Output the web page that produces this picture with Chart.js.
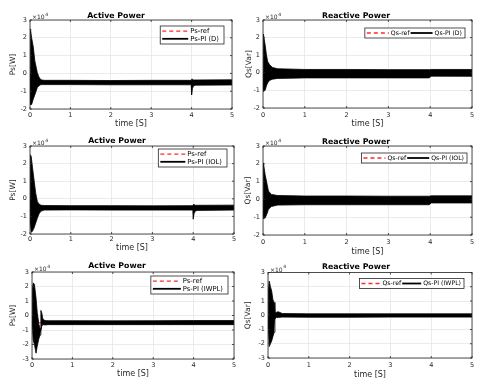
<!DOCTYPE html>
<html lang="en">
<head>
<meta charset="UTF-8">
<title>Active / Reactive Power</title>
<script src="https://cdn.jsdelivr.net/npm/chart.js@4"></script>
<style>
  body { margin: 0; background: #fff; }
  #wrap { position: relative; width: 480px; height: 387px; overflow: hidden; background: #fff; }
  #wrap canvas { position: absolute; }
</style>
</head>
<body>
<div id="wrap">
  <canvas id="c1" width="240" height="130" style="left:0;top:0"></canvas>
  <canvas id="c2" width="240" height="130" style="left:240px;top:0"></canvas>
  <canvas id="c3" width="240" height="127" style="left:0;top:130px"></canvas>
  <canvas id="c4" width="240" height="127" style="left:240px;top:130px"></canvas>
  <canvas id="c5" width="240" height="130" style="left:0;top:257px"></canvas>
  <canvas id="c6" width="240" height="130" style="left:240px;top:257px"></canvas>
</div>
<script>
// tick labels (y ticks are in units of 10^4)
const xTicks = [0, 1, 2, 3, 4, 5];
const yTicksTop = [-2, -1, 0, 1, 2, 3];
const yTicksBottom = [-3, -2, -1, 0, 1, 2, 3];

// references
const refTime = [0, 5];
const psRef = [-5000, -5000];
const qsRef = [0, 0];

// PI (D) - envelope of the oscillating signal (upper / lower), W and Var
const tPsD  = [0, 0.01, 0.02, 0.04, 0.08, 0.12, 0.18, 0.22, 0.27, 0.35, 1, 2, 3, 3.99, 4.0, 4.02, 4.05, 4.1, 5];
const psUpD = [0, 25000, 24000, 20000, 15000, 7000, 500, -2000, -3600, -3900, -3900, -4000, -3900, -3900, -3300, -3300, -3700, -3700, -3600];
const psLoD = [0, -12000, -17500, -17500, -14500, -12000, -8000, -7000, -6300, -6300, -6300, -6400, -6400, -6400, -12000, -8500, -7000, -6600, -6500];

const tQsD  = [0, 0.01, 0.05, 0.08, 0.11, 0.16, 0.23, 0.35, 1, 2, 3, 3.98, 4.02, 5];
const qsUpD = [0, 22000, 16000, 10500, 6500, 4500, 3000, 2300, 1900, 1900, 1800, 1800, 1900, 1900];
const qsLoD = [0, -10500, -10000, -7500, -5800, -4300, -3600, -3200, -2900, -2900, -2900, -2900, -1900, -2000];

// PI (IOL)
const tPsIOL  = [0, 0.01, 0.03, 0.06, 0.1, 0.14, 0.18, 0.22, 0.27, 0.35, 1, 2, 3, 3.99, 4.0, 4.02, 4.05, 4.1, 5];
const psUpIOL = [0, 25000, 24000, 18000, 10500, 3200, -1500, -3000, -3700, -3800, -3900, -3900, -4000, -3900, -3300, -3300, -3700, -3700, -3600];
const psLoIOL = [0, -14000, -19000, -18500, -16500, -13700, -11000, -8600, -7000, -6400, -6300, -6400, -6400, -6400, -11600, -8500, -7000, -6600, -6400];

const tQsIOL  = [0, 0.01, 0.05, 0.1, 0.13, 0.2, 0.35, 1, 2, 3, 3.98, 4.02, 5];
const qsUpIOL = [0, 20500, 14000, 8300, 4700, 2800, 2200, 1900, 1900, 1800, 1800, 2000, 2000];
const qsLoIOL = [0, -10700, -10500, -7800, -5600, -4000, -3200, -3000, -3000, -3000, -3000, -2000, -2000];

// PI (IWPL)
const tPsIWPL  = [0, 0.01, 0.03, 0.06, 0.1, 0.13, 0.17, 0.2, 0.22, 0.24, 0.27, 0.32, 0.4, 1, 2, 3, 4, 5];
const psUpIWPL = [0, 18000, 22500, 21500, 12000, 2000, -6000, -9000, 3500, 2000, -2500, -3500, -3600, -3600, -3700, -3600, -3500, -3500];
const psLoIWPL = [0, -8000, -17000, -20000, -26000, -21000, -16000, -13500, -11000, -7500, -6200, -6500, -6300, -6300, -6300, -6300, -6300, -6300];

const tQsIWPL  = [0, 0.01, 0.03, 0.06, 0.09, 0.12, 0.15, 0.17, 0.2, 0.25, 0.35, 1, 2, 3, 4, 5];
const qsUpIWPL = [0, 18000, 24000, 20000, 17000, 11000, 9000, 2500, 2000, 2500, 1200, 1000, 1000, 1000, 1000, 1000];
const qsLoIWPL = [0, -10000, -22000, -20000, -18000, -15000, -12000, -3000, -1500, -1500, -1300, -1400, -1400, -1300, -1300, -1300];

const FONT = '"DejaVu Sans", sans-serif';
const AXIS = '#262626';
const GRID = '#e2e2e2';

// box round the plot area plus small inward ticks (matlab style)
const frame = {
  id: 'frame',
  afterDatasetsDraw(chart) {
    const ctx = chart.ctx, a = chart.chartArea;
    ctx.save();
    ctx.strokeStyle = AXIS;
    ctx.lineWidth = 0.8;
    ctx.strokeRect(a.left, a.top, a.right - a.left, a.bottom - a.top);
    ctx.beginPath();
    chart.scales.x.ticks.forEach(t => {
      const px = chart.scales.x.getPixelForValue(t.value);
      ctx.moveTo(px, a.bottom); ctx.lineTo(px, a.bottom - 2);
      ctx.moveTo(px, a.top); ctx.lineTo(px, a.top + 2);
    });
    chart.scales.y.ticks.forEach(t => {
      const py = chart.scales.y.getPixelForValue(t.value);
      ctx.moveTo(a.left, py); ctx.lineTo(a.left + 2, py);
      ctx.moveTo(a.right, py); ctx.lineTo(a.right - 2, py);
    });
    ctx.stroke();
    ctx.restore();
  }
};

const legendBox = {
  id: 'legendBox',
  afterDatasetsDraw(chart, args, o) {
    const ctx = chart.ctx, a = chart.chartArea;
    const items = chart.data.datasets.slice(0, 2);
    ctx.save();
    ctx.font = o.size + 'px ' + FONT;
    ctx.textBaseline = 'middle';
    const tw = items.map(d => ctx.measureText(d.label).width);
    let w, h;
    if (o.row) {
      w = 2 + o.line + 2 + tw[0] + 1 + o.line + 2 + tw[1] + 3;
      h = 10;
    } else {
      w = 2 + o.line + 3 + Math.max(tw[0], tw[1]) + 4;
      h = 18;
    }
    const x = a.right - o.right - w, y = a.top + o.top;
    ctx.fillStyle = '#fff';
    ctx.fillRect(x, y, w, h);
    ctx.strokeStyle = AXIS;
    ctx.lineWidth = 0.8;
    ctx.strokeRect(x, y, w, h);
    const item = (d, lx, ly) => {
      ctx.beginPath();
      ctx.setLineDash(d.borderDash || []);
      ctx.strokeStyle = d.borderColor;
      ctx.lineWidth = d.legendWidth;
      ctx.moveTo(lx, ly);
      ctx.lineTo(lx + o.line, ly);
      ctx.stroke();
      ctx.setLineDash([]);
      ctx.fillStyle = '#000';
      ctx.fillText(d.label, lx + o.line + 2, ly);
    };
    if (o.row) {
      item(items[0], x + 2, y + h / 2);
      item(items[1], x + 2 + o.line + 2 + tw[0] + 1, y + h / 2);
    } else {
      item(items[0], x + 2, y + 5.2);
      item(items[1], x + 2, y + 12.8);
    }
    ctx.restore();
  }
};

// the "x10^4" exponent note above the y axis
const scaleNote = {
  id: 'scaleNote',
  afterDraw(chart) {
    const ctx = chart.ctx, a = chart.chartArea;
    ctx.save();
    ctx.fillStyle = AXIS;
    ctx.font = '6px ' + FONT;
    ctx.textBaseline = 'alphabetic';
    ctx.fillText('\u00d710', a.left + 2, a.top - 1);
    const w = ctx.measureText('\u00d710').width;
    ctx.font = '4.5px ' + FONT;
    ctx.fillText('4', a.left + 2.5 + w, a.top - 4.5);
    ctx.restore();
  }
};

function makeChart(id, s) {
  const pts = (xs, ys) => xs.map((x, i) => ({ x: x, y: ys[i] }));
  new Chart(document.getElementById(id), {
    type: 'line',
    data: {
      datasets: [
        { label: s.refLabel, data: pts(refTime, s.ref), borderColor: '#ff2a2a', borderDash: [4, 3],
          borderWidth: 1.2, legendWidth: 1.3, pointRadius: 0, fill: false, order: 1 },
        { label: s.piLabel, data: pts(s.t, s.up), borderColor: '#000', backgroundColor: '#000',
          borderWidth: 0.8, legendWidth: 1.8, pointRadius: 0, fill: '+1', order: 0 },
        { label: s.piLabel + ' low', data: pts(s.t, s.lo), borderColor: '#000',
          borderWidth: 0.8, pointRadius: 0, fill: false, order: 0 }
      ]
    },
    options: {
      responsive: false,
      animation: false,
      layout: { padding: { right: s.padRight } },
      plugins: {
        legend: { display: false },
        tooltip: { enabled: false },
        title: {
          display: true, text: s.title, color: '#000',
          font: { family: FONT, size: 7.8, weight: 'bold', lineHeight: 1 },
          padding: { top: s.titleTop, bottom: s.titleBottom }
        },
        legendBox: s.legend
      },
      scales: {
        x: {
          type: 'linear', min: 0, max: 5,
          afterBuildTicks: sc => { sc.ticks = xTicks.map(v => ({ value: v })); },
          afterFit: sc => { sc.height = s.xHeight; },
          grid: { color: GRID, lineWidth: 0.7, drawTicks: false },
          border: { display: false },
          ticks: { padding: s.xTickPad, color: AXIS, maxRotation: 0, autoSkip: false,
                   font: { family: FONT, size: 6.5 } },
          title: { display: true, text: 'time [S]', color: AXIS,
                   font: { family: FONT, size: 8, lineHeight: 1 },
                   padding: { top: 0, bottom: s.xTitlePad } }
        },
        y: {
          min: s.yTicks[0] * 1e4, max: s.yTicks[s.yTicks.length - 1] * 1e4,
          afterBuildTicks: sc => { sc.ticks = s.yTicks.map(v => ({ value: v * 1e4 })); },
          afterFit: sc => { sc.width = s.yWidth; },
          grid: { color: GRID, lineWidth: 0.7, drawTicks: false },
          border: { display: false },
          ticks: { padding: 3, color: AXIS, font: { family: FONT, size: 6.5 },
                   callback: v => String(Math.round(v / 1e4)) },
          title: { display: true, text: s.yLabel, color: AXIS,
                   font: { family: FONT, size: 7.5, lineHeight: 1 },
                   padding: { top: s.yTitlePad, bottom: 0 } }
        }
      }
    },
    plugins: [frame, legendBox, scaleNote]
  });
}

makeChart('c1', {
  title: 'Active Power', yLabel: 'Ps[W]', refLabel: 'Ps-ref', piLabel: 'Ps-PI (D)',
  t: tPsD, up: psUpD, lo: psLoD, ref: psRef, yTicks: yTicksTop,
  yWidth: 30, padRight: 8, titleTop: 12, titleBottom: 0.2, xHeight: 21, xTickPad: 2.8, xTitlePad: 2, yTitlePad: 9.2,
  legend: { row: false, right: 8, top: 6, line: 26, size: 6.8 }
});
makeChart('c2', {
  title: 'Reactive Power', yLabel: 'Qs[Var]', refLabel: 'Qs-ref', piLabel: 'Qs-PI (D)',
  t: tQsD, up: qsUpD, lo: qsLoD, ref: qsRef, yTicks: yTicksTop,
  yWidth: 23, padRight: 8, titleTop: 12, titleBottom: 0.2, xHeight: 22, xTickPad: 3, xTitlePad: 2, yTitlePad: 5.2,
  legend: { row: true, right: 7, top: 8, line: 22, size: 6.2 }
});
makeChart('c3', {
  title: 'Active Power', yLabel: 'Ps[W]', refLabel: 'Ps-ref', piLabel: 'Ps-PI (IOL)',
  t: tPsIOL, up: psUpIOL, lo: psLoIOL, ref: psRef, yTicks: yTicksTop,
  yWidth: 30, padRight: 6, titleTop: 7, titleBottom: 1.2, xHeight: 23, xTickPad: 1.2, xTitlePad: 5, yTitlePad: 9.5,
  legend: { row: false, right: 7, top: 3, line: 25, size: 6.8 }
});
makeChart('c4', {
  title: 'Reactive Power', yLabel: 'Qs[Var]', refLabel: 'Qs-ref', piLabel: 'Qs-PI (IOL)',
  t: tQsIOL, up: qsUpIOL, lo: qsLoIOL, ref: qsRef, yTicks: yTicksTop,
  yWidth: 23, padRight: 8, titleTop: 8, titleBottom: 0.2, xHeight: 22, xTickPad: 3.5, xTitlePad: 1.3, yTitlePad: 4.6,
  legend: { row: true, right: 5, top: 7, line: 22, size: 6.2 }
});
makeChart('c5', {
  title: 'Active Power', yLabel: 'Ps[W]', refLabel: 'Ps-ref', piLabel: 'Ps-PI (IWPL)',
  t: tPsIWPL, up: psUpIWPL, lo: psLoIWPL, ref: psRef, yTicks: yTicksBottom,
  yWidth: 32, padRight: 6, titleTop: 5.1, titleBottom: 2.1, xHeight: 28, xTickPad: 2.8, xTitlePad: 8.7, yTitlePad: 9.5,
  legend: { row: false, right: 6, top: 4, line: 28, size: 6.8 }
});
makeChart('c6', {
  title: 'Reactive Power', yLabel: 'Qs[Var]', refLabel: 'Qs-ref', piLabel: 'Qs-PI (IWPL)',
  t: tQsIWPL, up: qsUpIWPL, lo: qsLoIWPL, ref: qsRef, yTicks: yTicksBottom,
  yWidth: 28, padRight: 8, titleTop: 6.1, titleBottom: 1.6, xHeight: 29, xTickPad: 3.8, xTitlePad: 8, yTitlePad: 4.6,
  legend: { row: true, right: 8, top: 6, line: 19, size: 6.2 }
});
</script>
</body>
</html>
